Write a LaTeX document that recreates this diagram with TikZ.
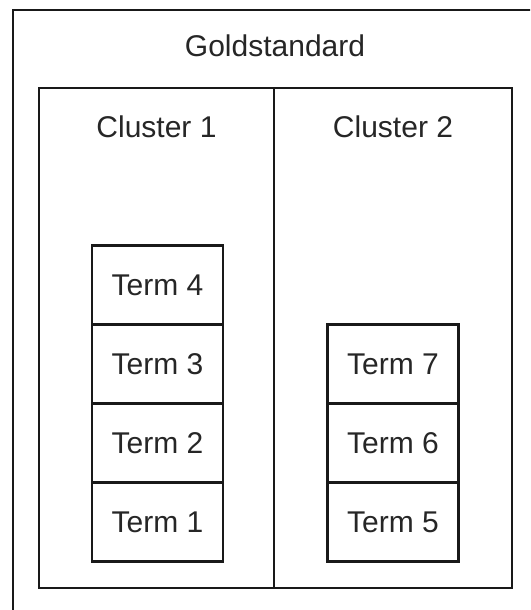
\documentclass[tikz,border=0pt]{standalone}
\usepackage{fontspec}
\setmainfont{Liberation Sans}
\begin{document}
\begin{tikzpicture}[x=0.5pt,y=-0.5pt,
  frame/.style={draw=black!90, line width=1.1pt, rectangle, inner sep=0pt, outer sep=0pt, anchor=north west},
  term/.style={draw=black!90, line width=1.1pt, rectangle, inner sep=0pt, outer sep=0pt,
    minimum width=65.5pt, minimum height=39.5pt, font=\fontsize{15}{18}\selectfont, text=black!85},
  caption/.style={font=\fontsize{15}{18}\selectfont, text=black!85, inner sep=0pt}]
  \clip (0,0) rectangle (530,610);
  % outer container, partly outside the page
  \node[frame, minimum width=265pt, minimum height=310pt] (gold) at (13,10) {};
  \node[caption] (goldtitle) at (275,46) {Goldstandard};
  % the two clusters side by side
  \node[frame, minimum width=117.5pt, minimum height=250pt] (c1) at (39,88) {};
  \node[frame, minimum width=119pt, minimum height=250pt] (c2) at (274,88) {};
  \node[caption] (c1title) at (156.5,127) {Cluster 1};
  \node[caption] (c2title) at (393,127) {Cluster 2};
  % terms of cluster 1
  \node[term] (t1) at (157.5,522) {Term 1};
  \node[term, anchor=south] (t2) at (t1.north) {Term 2};
  \node[term, anchor=south] (t3) at (t2.north) {Term 3};
  \node[term, anchor=south] (t4) at (t3.north) {Term 4};
  % terms of cluster 2
  \node[term] (t5) at (393,522) {Term 5};
  \node[term, anchor=south] (t6) at (t5.north) {Term 6};
  \node[term, anchor=south] (t7) at (t6.north) {Term 7};
\end{tikzpicture}
\end{document}
